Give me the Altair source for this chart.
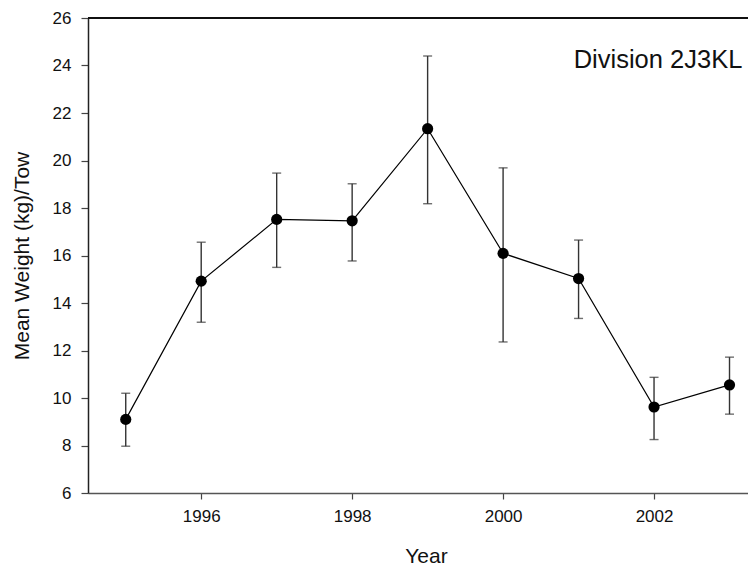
import altair as alt
import pandas as pd

years = [1995, 1996, 1997, 1998, 1999, 2000, 2001, 2002, 2003]
mean_weight = [9.10, 14.92, 17.52, 17.46, 21.34, 16.09, 15.03, 9.62, 10.55]
lower = [7.97, 13.19, 15.50, 15.77, 18.18, 12.36, 13.35, 8.25, 9.32]
upper = [10.20, 16.56, 19.47, 19.02, 24.40, 19.69, 16.65, 10.87, 11.72]
x_ticks = [1996, 1998, 2000, 2002]
y_ticks = [6, 8, 10, 12, 14, 16, 18, 20, 22, 24, 26]
label_text = "Division 2J3KL"

df = pd.DataFrame({"Year": years, "Mean": mean_weight, "Lo": lower, "Hi": upper})

FONT = "Liberation Sans"

xscale = alt.Scale(domain=[1994.5, 2003.245], nice=False, zero=False)
yscale = alt.Scale(domain=[6, 26], nice=False, zero=False)

xax = alt.Axis(values=x_ticks, format="d", title="Year", grid=False,
               domainColor="#555555", domainWidth=1.5, tickColor="#444444",
               tickSize=6, tickWidth=1.2, labelFontSize=17, labelPadding=9,
               labelColor="#111111", titleFontSize=21, titleFontWeight="normal",
               titleColor="#111111", titleBaseline="alphabetic", titleY=69,
               titleX=338, titleAnchor="middle", labelFont=FONT, titleFont=FONT)
yax = alt.Axis(values=y_ticks, title="Mean Weight (kg)/Tow", grid=False,
               domainColor="#222222", domainWidth=1.5, tickColor="#444444",
               tickSize=7, tickWidth=1.2, labelFontSize=17, labelPadding=10,
               labelColor="#111111", titleFontSize=21, titleFontWeight="normal",
               titleColor="#111111", titleBaseline="alphabetic", titleX=-60,
               labelFont=FONT, titleFont=FONT)

base = alt.Chart(df)

top_rule = base.mark_rule(color="#111111", strokeWidth=1.5).encode(
    y=alt.datum(26, scale=yscale)
)

err = base.mark_rule(color="#333333", strokeWidth=1.4).encode(
    x=alt.X("Year:Q", scale=xscale, axis=xax),
    y=alt.Y("Lo:Q", scale=yscale, axis=yax),
    y2="Hi:Q",
)
cap_lo = base.mark_tick(orient="horizontal", color="#333333", size=9, thickness=1.4).encode(
    x=alt.X("Year:Q", scale=xscale), y=alt.Y("Lo:Q", scale=yscale)
)
cap_hi = base.mark_tick(orient="horizontal", color="#333333", size=9, thickness=1.4).encode(
    x=alt.X("Year:Q", scale=xscale), y=alt.Y("Hi:Q", scale=yscale)
)
line = base.mark_line(color="#000000", strokeWidth=1.2).encode(
    x=alt.X("Year:Q", scale=xscale), y=alt.Y("Mean:Q", scale=yscale)
)
pts = base.mark_point(filled=True, color="#000000", size=125, opacity=1).encode(
    x=alt.X("Year:Q", scale=xscale), y=alt.Y("Mean:Q", scale=yscale)
)
label = alt.Chart(pd.DataFrame({"t": [label_text], "x": [2003.17], "y": [23.9]})).mark_text(
    align="right", baseline="alphabetic", fontSize=25.5, font=FONT, color="#111111"
).encode(
    x=alt.X("x:Q", scale=xscale), y=alt.Y("y:Q", scale=yscale), text="t:N"
)

chart = alt.layer(err, cap_lo, cap_hi, line, pts, top_rule, label).properties(
    width=660, height=475,
    autosize=alt.AutoSizeParams(type="none"),
    padding={"left": 80, "top": 10, "right": 0, "bottom": 75},
).configure_view(strokeWidth=0).configure(background="white")

chart.save("out.html", embed_options={"renderer": "svg", "actions": False})
